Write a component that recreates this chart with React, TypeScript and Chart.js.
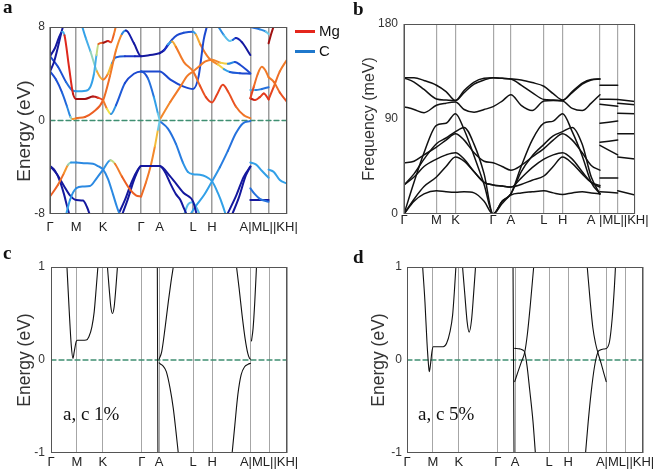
import React, { useEffect, useRef } from "react";
import { Chart, registerables } from "chart.js";
Chart.register(...registerables);
Chart.defaults.font.family = "'Liberation Sans', Arial, sans-serif";

// ---------------- k-paths and tick labels ----------------
const kPosA = [0, 26.2, 53.2, 91.2, 109.7, 143.2, 162.2, 200.5, 218.8, 237.2];
const kLabA = ["Γ", "M", "K", "Γ", "A", "L", "H", "", "A|ML||KH|", ""];
const kPosB = [0, 32.4, 51.4, 89, 106.7, 139.7, 158.4, 195.7, 213.4, 230.7];
const kLabB = ["Γ", "M", "K", "Γ", "A", "L", "H", "", "A |ML||KH|", ""];
const kPosCD = [0, 26, 52, 91, 108.3, 142.6, 161.6, 200, 218.6, 236.6];
const kLabCD = ["Γ", "M", "K", "Γ", "A", "L", "H", "", "A|ML||KH|", ""];

const yTicksA = [-8, 0, 8];
const yTicksB = [0, 90, 180];
const yTicksCD = [-1, 0, 1];

// ---------------- panel a: bands [k, E(eV), Mg weight] ----------------
const aB1 = [[0,5.5,0.05],[5,6.2,0.05],[9,7.1,0.05],[12.2,7.6,0.1],[14.5,7.3,0.95],[19,4.6,0.95],[23,2.3,0.95],[26.2,1.85,1],[35,1.85,1],[43,2.05,1],[48,1.95,0.95],[53.2,1.7,0.85],[57,1.0,0.75],[61,0.55,0.55],[66,1.3,0.4],[75,3.2,0.3],[84,4.0,0.3],[91.2,4.2,0.3],[98,3.6,0.35],[104,2.0,0.45],[108,0.6,0.55],[109.7,0.05,0.6]];
const aB2 = [[0,4.2,0.3],[6,3.5,0.3],[12,2.4,0.35],[17,1.2,0.4],[20.5,0.3,0.5],[22.5,0.12,0.7],[26.2,0.2,0.8],[35,0.3,0.85],[43,0.7,0.85],[53.2,1.75,0.85],[60,3.8,0.8],[66,6.0,0.8],[72,7.4,0.75],[76,7.7,0.15],[84,6.6,0.05],[91.2,5.5,0.05],[100,5.6,0.05],[109.7,5.75,0.05]];
const aB3 = [[0,4.2,0.05],[4,5.0,0.05],[8,6.3,0.05],[11,7.4,0.05],[13.5,8.2,0.05]];
const aB4 = [[0,5.5,0.3],[8,4.6,0.3],[16,3.3,0.35],[22,2.6,0.45],[26.2,2.5,0.5],[36,2.55,0.5],[40.5,2.9,0.5],[44,4.0,0.5],[46.5,5.6,0.55],[48.5,6.55,0.7],[53.2,6.65,1],[58,6.8,1],[61,6.7,0.9],[64,7.4,0.8],[66,8.1,0.8]];
const aB5 = [[32,8.1,0.5],[36,7.0,0.5],[40.5,5.9,0.55],[47,4.2,0.65],[53.2,3.5,0.8],[58,4.0,0.8],[62,4.9,0.6],[66,5.4,0.4],[75,5.5,0.3],[85,5.5,0.2],[91.2,5.5,0.1]];
const aB7 = [[109.7,0.05,0.75],[120.5,1.6,0.8],[130.5,2.9,0.8],[137.2,3.8,0.8],[143.2,4.2,0.8],[148.8,4.6,0.8],[155.5,5.05,0.8],[162.2,5.2,0.8],[170.5,4.95,0.75],[178,4.85,0.6],[185,5.0,0.3],[190.5,4.75,0.3],[200.5,4.05,0.3]];
const aB8 = [[109.7,5.75,0.05],[114,6.0,0.1],[118,6.5,0.35],[122.2,6.77,0.65],[126,6.3,0.8],[134,5.0,0.8],[143.2,4.2,0.8],[150,3.0,0.85],[156,2.0,0.9],[162.2,1.55,0.9],[167,2.2,0.9],[173,3.05,0.9],[178,2.5,0.9],[186,1.2,0.85],[194,0.45,0.8],[200.5,0.2,0.8]];
const aB9 = [[91.2,4.2,0.3],[100,4.2,0.3],[109.7,4.2,0.3],[120.5,3.5,0.3],[133.8,2.9,0.3],[143.2,2.7,0.3],[148.8,3.8,0.3],[153.8,6.9,0.3],[157.2,8.1,0.3]];
const aB11 = [[109.7,5.75,0.05],[115,6.1,0.15],[122,6.9,0.3],[127.2,7.3,0.3],[133.8,7.5,0.3],[143.2,7.6,0.35],[146,7.35,0.65],[150.5,6.5,0.8],[158.8,5.35,0.8],[162.2,5.1,0.8],[168,4.8,0.75],[174,4.4,0.6],[180,4.15,0.4],[190,4.05,0.3],[200.5,4.0,0.3]];
const aB12 = [[168,8.1,0.45],[174,7.3,0.45],[180,6.8,0.65],[183,6.9,0.5],[186,7.05,0.2],[192,6.7,0.05],[200.5,5.6,0.05]];
const aV1 = [[0,-6.5,0.85],[8,-5.5,0.85],[14,-4.5,0.8],[18,-3.8,0.7],[21,-3.6,0.5],[26.2,-3.6,0.45],[35,-3.65,0.45],[43,-3.7,0.45],[48,-3.9,0.45],[53.2,-4.2,0.45],[58,-5.0,0.45],[63,-6.3,0.45],[67,-7.4,0.45],[70,-8.1,0.45]];
const aV2 = [[16,-8.1,0.5],[20,-6.8,0.5],[26.2,-5.8,0.45],[33,-5.65,0.45],[40,-5.6,0.45],[47,-4.9,0.45],[53.2,-4.2,0.45],[60.5,-3.4,0.5],[65,-3.7,0.75],[72,-4.8,0.85],[80,-5.9,0.85],[86,-6.4,0.85],[91.2,-6.5,0.85]];
const aV3 = [[0,-3.9,0.05],[5,-4.3,0.05],[10,-5.2,0.05],[14,-6.3,0.05],[17,-7.3,0.05],[19.5,-8.1,0.05]];
const aV4 = [[0,-3.9,0.05],[7,-4.6,0.05],[14,-5.6,0.05],[20,-6.4,0.05],[26.2,-6.8,0.05],[33,-6.85,0.05],[37,-7.4,0.05],[40,-8.1,0.05]];
const aV5 = [[68,-8.1,0.05],[75,-6.8,0.05],[82,-5.2,0.05],[88,-4.2,0.05],[91.2,-3.9,0.05],[100,-3.9,0.05],[109.7,-3.9,0.05],[120.5,-4.8,0.05],[133.8,-6.2,0.05],[143.2,-6.94,0.05],[147,-8.1,0.05]];
const aV6 = [[72,-8.1,0.05],[78,-6.7,0.05],[84,-5.1,0.05],[89,-4.1,0.05],[91.2,-3.9,0.05],[109.7,-3.9,0.05],[115,-4.4,0.05],[120.5,-5.4,0.05],[126,-6.3,0.05],[130.5,-6.8,0.05],[134,-7.5,0.05],[137,-8.1,0.05]];
const aV7 = [[91.2,-6.5,0.85],[96,-5.3,0.8],[101,-3.8,0.8],[105,-2.2,0.75],[108,-0.8,0.65],[109.7,-0.05,0.5]];
const aV8 = [[109.7,-0.05,0.4],[118,-0.7,0.4],[126,-2.0,0.4],[133,-3.6,0.45],[138,-4.4,0.5],[143.2,-4.6,0.5],[150,-4.65,0.5],[156,-4.8,0.5],[162.2,-5.2,0.5],[168,-6.2,0.5],[173,-7.3,0.5],[176,-8.1,0.5]];
const aV9 = [[140,-8.1,0.5],[146,-7.3,0.5],[154,-6.4,0.5],[162.2,-5.2,0.5],[170,-4.0,0.45],[178,-2.6,0.4],[186,-1.1,0.4],[193,-0.25,0.4],[200.5,-0.05,0.4]];
const aV10 = [[177,-8.1,0.05],[186,-6.5,0.05],[194,-4.8,0.05],[200.5,-3.95,0.05]];
const aV11 = [[182,-8.1,0.05],[189,-6.6,0.05],[196,-4.7,0.05],[200.5,-3.95,0.05]];
const aV12 = [[134,-8.1,0.55],[138,-7.2,0.55],[142,-7.0,0.55],[147,-7.5,0.55],[150,-8.1,0.55]];
const aM1 = [[200.5,1.9,0.95],[204,2.9,0.85],[208,4.0,0.8],[212,4.6,0.8],[215.5,4.3,0.8],[218.8,3.7,0.8]];
const aM2 = [[200.5,1.9,1],[205,1.75,0.95],[210,2.0,0.9],[214,2.3,0.9],[218.8,1.8,0.95]];
const aMcy = [[200.5,2.6,0.62],[206,2.6,0.45],[212,2.7,0.4],[218.8,2.85,0.4]];
const aMtop = [[200.5,8.0,0.4],[210,7.8,0.4],[216,7.6,0.5],[218.8,7.4,0.65]];
const aMV1 = [[200.5,-3.6,0.5],[206,-3.75,0.5],[212,-4.3,0.5],[218.8,-4.9,0.5]];
const aMV2 = [[200.5,-5.8,0.4],[205,-6.3,0.4],[210,-6.7,0.4],[218.8,-6.95,0.4]];
const aMV3 = [[200.5,-6.8,0.05],[218.8,-6.8,0.05]];
const aK1 = [[218.8,3.7,0.8],[224,3.3,0.8],[230,2.4,0.85],[237.2,1.6,0.9]];
const aK2 = [[218.8,1.8,0.95],[224,2.9,0.85],[230,4.2,0.8],[237.2,5.2,0.8]];
const aKtop = [[218.8,6.6,1],[221,7.3,1],[224,8.1,1]];
const aKV1 = [[218.8,-4.2,0.5],[224,-4.4,0.5],[230,-5.1,0.5],[237.2,-5.4,0.5]];
const bandsA = [aB1,aB2,aB3,aB4,aB5,aB7,aB8,aB9,aB11,aB12,aV1,aV2,aV3,aV4,aV5,aV6,aV7,aV8,aV9,aV10,aV11,aV12,aM1,aM2,aMcy,aMtop,aMV1,aMV2,aMV3,aK1,aK2,aKtop,aKV1];

// ---------------- panel b: phonon branches (meV) ----------------
const kPh = [0, 10, 20, 32.4, 42, 51.4, 60, 70, 80, 89, 98, 106.7, 117, 128, 139.7, 149, 158.4, 168, 178, 187, 195.7];
const ph1 = [129,129,126.5,122,116,107.5,115,123,127,129,128.5,128,127,124.5,121,114,108,115,123,127,128];
const ph2 = [129,125,118,109,108,107.5,117,125,128.5,129,128.5,128,122,115,108.5,108,107.5,116,124,127.5,128];
const ph3 = [101.7,99,96,103,105,106,99,96.5,99,101.7,107,113,103,98,107,107.5,107,100,98,105,113];
const ph4 = [0,30,58,84,86,95,80,55,28,0,12,19,45,70,86,88,95,78,55,30,19];
const ph5 = [27.5,38,52,66.6,72,78,82,66,38,0,12,19,40,55,66,74,78,82,66,35,19];
const ph6 = [48.6,50,56,63.4,70,76,70,58,50,48.6,45,41.5,46,54,62,70,76,70,58,46,41.5];
const ph7 = [27.5,35,45,52,56,58,52,40,30,27.5,26.5,25.5,34,44,52,56,58,52,40,30,25.5];
const ph8 = [0,14,26,35,45,54,50,40,30,27.5,26.5,25.5,28,32,36,45,54,48,38,30,27];
const ph9 = [0,12,19,22,21,20.5,21,20,12,0,10,18,20,21,22,20,18.5,20,21,20,19];
const phBranches = [ph1, ph2, ph3, ph4, ph5, ph6, ph7, ph8, ph9];
const kML = [195.7, 213.4];
const phML = [[122,122],[108.7,108.5],[104,102],[86,88],[68,70],[65,56],[34,34],[21,20]];
const kKH = [213.4, 230.7];
const phKH = [[108.5,106.5],[105,103.5],[95.5,95],[76,76],[54,52],[22,18]];

// ---------------- panel c: a,c 1% ----------------
const c1 = [[16,1],[18.3,0.52],[20.3,0.16],[22,0.018],[23.3,0.09],[25.3,0.2],[26.5,0.212],[31,0.213],[35.3,0.215],[38,0.25],[41,0.357],[43.3,0.518],[45.3,0.768],[47,1]];
const c2 = [[56.6,1],[58.3,0.77],[60,0.57],[61.6,0.5],[63.3,0.57],[65,0.77],[66.6,1]];
const c3 = [[106.6,1],[107.2,-1]];
const c4 = [[108.4,0.01],[111,0.09],[114.3,0.34],[117.6,0.625],[120.3,0.84],[122.6,1]];
const c5 = [[108.4,-0.03],[110,-0.046],[112,-0.06],[115.6,-0.125],[119.3,-0.3],[122.6,-0.52],[125.3,-0.77],[127.6,-1]];
const c6 = [[186,1],[188.6,0.77],[191.6,0.48],[194.6,0.23],[197.3,0.07],[199,0.018],[200,0.01]];
const c7 = [[181.6,-1],[184.3,-0.7],[187.3,-0.375],[190.6,-0.16],[194.3,-0.07],[197.6,-0.046],[200,-0.036]];
const c8 = [[201,0.204],[202.6,0.34],[204.3,0.625],[206,1]];
const bandsC = [c1, c2, c3, c4, c5, c6, c7, c8];

// ---------------- panel d: a,c 5% ----------------
const d1 = [[15.7,1],[18,0.625],[20,0.196],[21.7,-0.071],[22.3,-0.125],[23.3,-0.07],[25,0.089],[26.3,0.143],[31,0.143],[36.3,0.143],[39.7,0.18],[43,0.3],[45.7,0.48],[47.7,0.77],[49,1]];
const d2 = [[55.7,1],[58,0.7],[60.3,0.41],[62.3,0.3],[64.7,0.43],[66.7,0.7],[68.7,1]];
const d3 = [[106.3,1],[107.3,-1]];
const d4 = [[108,-0.232],[111.3,-0.125],[114.7,-0.02],[118,0.082],[120.7,0.28],[123.7,0.6],[127,1]];
const d5 = [[108,0.125],[113,0.12],[116,0.108],[118,0.082],[120.3,-0.06],[123,-0.32],[126.3,-0.66],[128.7,-1]];
const d6 = [[180.7,1],[183.7,0.625],[186.3,0.35],[189,0.18],[191.3,0.082],[194.7,-0.04],[197,-0.13],[199.7,-0.232]];
const d7 = [[179,-1],[181.7,-0.66],[184.7,-0.34],[188,-0.07],[191.3,0.082],[193.7,0.107],[197,0.118],[200,0.125],[203,0.196],[205.7,0.446],[208,0.8],[209,1]];
const bandsD = [d1, d2, d3, d4, d5, d6, d7];

// ---------------- styling helpers ----------------
const cmapStops = [
  [0.0, 18, 18, 145], [0.2, 25, 40, 195], [0.35, 30, 90, 215], [0.5, 50, 160, 232],
  [0.58, 110, 205, 235], [0.65, 240, 225, 70], [0.75, 245, 150, 45], [0.85, 236, 95, 35],
  [0.95, 222, 40, 28], [1.0, 160, 18, 18],
];
function cmap(w: number): string {
  const t = Math.max(0, Math.min(1, w));
  for (let i = 1; i < cmapStops.length; i++) {
    const a = cmapStops[i - 1], b = cmapStops[i];
    if (t <= b[0]) {
      const f = (t - a[0]) / (b[0] - a[0] || 1);
      const c = [1, 2, 3].map((j) => Math.round(a[j] + (b[j] - a[j]) * f));
      return `rgb(${c[0]},${c[1]},${c[2]})`;
    }
  }
  return "rgb(160,18,18)";
}

const framePlugin = {
  id: "frame",
  afterDraw(chart: any) {
    const { ctx, chartArea: a } = chart;
    ctx.save();
    ctx.strokeStyle = "#555";
    ctx.lineWidth = 1;
    ctx.strokeRect(Math.round(a.left) + 0.5, Math.round(a.top) + 0.5, Math.round(a.right - a.left) - 1, Math.round(a.bottom - a.top) - 1);
    ctx.restore();
  },
};

interface Panel {
  w: number; h: number;
  datasets: any[];
  kPos: number[]; kLab: string[];
  yMin: number; yMax: number; yTicks: number[];
  yTitle: string; yTitleSize: number; yTitlePad: number;
  yAxisW: number; xAxisH: number; padRight: number; padTop: number;
  xTickPad: number; yTickPad: number; gridColor: string; gridW: number;
}

function lineDs(pts: number[][], color: string, width: number) {
  return {
    data: pts.map((p) => ({ x: p[0], y: p[1] })),
    showLine: true, borderColor: color, borderWidth: width, pointRadius: 0, fill: false,
  };
}

function zeroDs(xMax: number) {
  return {
    data: [{ x: 0, y: 0 }, { x: xMax, y: 0 }],
    showLine: true, borderColor: "#3f8f72", borderWidth: 1.3, borderDash: [5, 3], pointRadius: 0,
  };
}

function build(canvas: HTMLCanvasElement, p: Panel) {
  return new Chart(canvas, {
    type: "scatter",
    data: { datasets: p.datasets },
    options: {
      animation: false,
      responsive: false,
      events: [],
      layout: { padding: { left: 0, right: p.padRight, top: p.padTop, bottom: 0 } },
      plugins: { legend: { display: false }, tooltip: { enabled: false } },
      elements: { point: { radius: 0 }, line: { cubicInterpolationMode: "monotone", borderCapStyle: "round", borderJoinStyle: "round" } },
      scales: {
        x: {
          type: "linear",
          min: 0,
          max: p.kPos[p.kPos.length - 1],
          afterBuildTicks: (s: any) => { s.ticks = p.kPos.map((v) => ({ value: v })); },
          afterFit: (s: any) => { s.height = p.xAxisH; },
          ticks: {
            autoSkip: false, maxRotation: 0, minRotation: 0, padding: p.xTickPad, color: "#222",
            font: { size: 13, lineHeight: 1 },
            callback: (_v: any, i: number) => p.kLab[i],
          },
          grid: { color: p.gridColor, lineWidth: p.gridW, drawTicks: false },
          border: { display: false },
        },
        y: {
          type: "linear",
          min: p.yMin,
          max: p.yMax,
          afterBuildTicks: (s: any) => { s.ticks = p.yTicks.map((v) => ({ value: v })); },
          afterFit: (s: any) => { s.width = p.yAxisW; },
          ticks: { padding: p.yTickPad, color: "#333", font: { size: 12 } },
          grid: { display: false, drawTicks: false },
          border: { display: false },
          title: { display: true, text: p.yTitle, color: "#333", font: { size: p.yTitleSize }, padding: { top: p.yTitlePad, bottom: 0 } },
        },
      },
    } as any,
    plugins: [framePlugin],
  });
}

function PanelChart({ p, left, top }: { p: Panel; left: number; top: number }) {
  const ref = useRef<HTMLCanvasElement>(null);
  useEffect(() => {
    if (!ref.current) return;
    const ch = build(ref.current, p);
    return () => ch.destroy();
  }, []);
  return (
    <canvas ref={ref} width={p.w} height={p.h}
      style={{ position: "absolute", left, top, width: p.w, height: p.h }} />
  );
}

// ---------------- panel definitions ----------------
const panelA: Panel = {
  w: 330, h: 240,
  datasets: [
    ...bandsA.map((b) => ({
      ...lineDs(b, cmap(b[0][2]), 2),
      segment: { borderColor: (c: any) => cmap((b[c.p0DataIndex][2] + b[c.p1DataIndex][2]) / 2) },
    })),
    zeroDs(kPosA[kPosA.length - 1]),
  ],
  kPos: kPosA, kLab: kLabA, yMin: -8, yMax: 8, yTicks: yTicksA,
  yTitle: "Energy (eV)\u00a0\u00a0\u00a0\u00a0", yTitleSize: 19, yTitlePad: 13,
  yAxisW: 50, xAxisH: 26, padRight: 43, padTop: 27, xTickPad: 7, yTickPad: 5,
  gridColor: "#9c9c9c", gridW: 1.5,
};

const panelB: Panel = {
  w: 326, h: 240,
  datasets: [
    ...phBranches.map((br) => lineDs(br.map((f, i) => [kPh[i], f]), "#111", 1.5)),
    ...phML.map((l) => lineDs(l.map((f, i) => [kML[i], f]), "#111", 1.5)),
    ...phKH.map((l) => lineDs(l.map((f, i) => [kKH[i], f]), "#111", 1.5)),
  ],
  kPos: kPosB, kLab: kLabB, yMin: 0, yMax: 180, yTicks: yTicksB,
  yTitle: "Frequency (meV)", yTitleSize: 16, yTitlePad: 30,
  yAxisW: 74, xAxisH: 26, padRight: 21, padTop: 24, xTickPad: 0, yTickPad: 6,
  gridColor: "#a8a8a8", gridW: 1.2,
};

const panelC: Panel = {
  w: 330, h: 234,
  datasets: [...bandsC.map((b) => lineDs(b, "#111", 1.1)), zeroDs(kPosCD[kPosCD.length - 1])],
  kPos: kPosCD, kLab: kLabCD, yMin: -1, yMax: 1, yTicks: yTicksCD,
  yTitle: "Energy (eV)", yTitleSize: 17.5, yTitlePad: 15,
  yAxisW: 51, xAxisH: 21, padRight: 43, padTop: 27, xTickPad: 2.5, yTickPad: 6,
  gridColor: "#a6a6a6", gridW: 1,
};

const panelD: Panel = {
  w: 326, h: 234,
  datasets: [...bandsD.map((b) => lineDs(b, "#111", 1.1)), zeroDs(kPosCD[kPosCD.length - 1])],
  kPos: kPosCD, kLab: kLabCD, yMin: -1, yMax: 1, yTicks: yTicksCD,
  yTitle: "Energy (eV)", yTitleSize: 17.5, yTitlePad: 38.5,
  yAxisW: 77, xAxisH: 21, padRight: 13, padTop: 27, xTickPad: 2.5, yTickPad: 5,
  gridColor: "#a6a6a6", gridW: 1,
};

const serif = "'Liberation Serif', 'Times New Roman', serif";
const sans = "'Liberation Sans', Arial, sans-serif";

function Txt({ x, y, size, bold, family, children }: any) {
  return (
    <div style={{ position: "absolute", left: x, top: y, fontSize: size, lineHeight: `${size}px`, fontWeight: bold ? 700 : 400, fontFamily: family, color: "#111", whiteSpace: "nowrap", zIndex: 2 }}>
      {children}
    </div>
  );
}

export default function App() {
  return (
    <div style={{ position: "absolute", left: 0, top: 0, width: 656, height: 474, background: "#fff", overflow: "hidden" }}>
      <PanelChart p={panelA} left={0} top={0} />
      <PanelChart p={panelB} left={330} top={0} />
      <PanelChart p={panelC} left={0} top={240} />
      <PanelChart p={panelD} left={330} top={240} />
      <Txt x={3} y={-3} size={19} bold family={serif}>a</Txt>
      <Txt x={353} y={-1} size={19} bold family={serif}>b</Txt>
      <Txt x={3} y={243} size={19} bold family={serif}>c</Txt>
      <Txt x={353} y={247} size={19} bold family={serif}>d</Txt>
      <Txt x={63} y={404} size={19} family={serif}>a, c 1%</Txt>
      <Txt x={418} y={404} size={19} family={serif}>a, c 5%</Txt>
      <div style={{ position: "absolute", left: 295, top: 30, width: 20, height: 3, background: "#e4261c", zIndex: 2 }} />
      <div style={{ position: "absolute", left: 295, top: 50, width: 20, height: 3, background: "#1f78cc", zIndex: 2 }} />
      <Txt x={319} y={23} size={15} family={sans}>Mg</Txt>
      <Txt x={319} y={43} size={15} family={sans}>C</Txt>
    </div>
  );
}
